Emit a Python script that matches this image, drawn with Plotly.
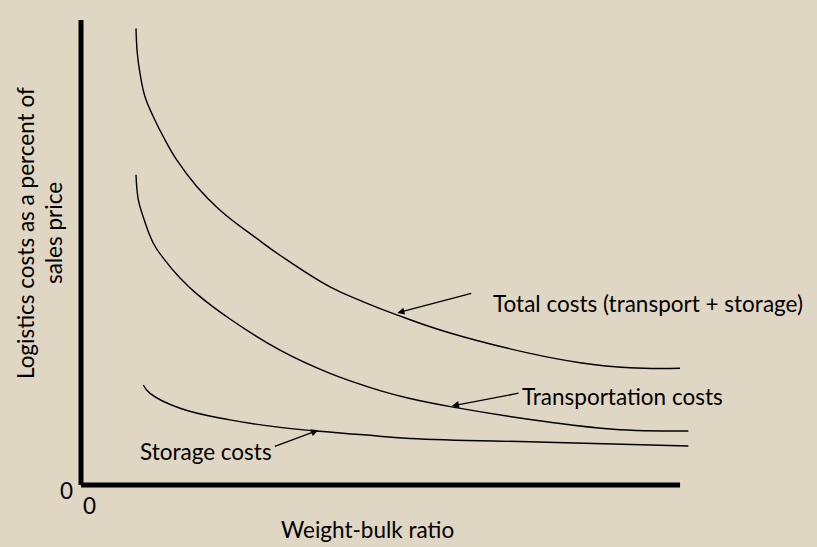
import plotly.graph_objects as go

# curves (x: weight-bulk ratio, y: cost %), arbitrary 0-100 units
total_x = [9.18, 9.40, 9.85, 10.68, 12.07, 13.74, 15.98, 19.32, 23.21, 29.88, 33.22, 41.57,
           47.13, 52.70, 61.05, 74.96, 83.31, 91.65, 100.0]
total_y = [98.2, 92.8, 88.5, 83.5, 79.2, 74.9, 69.9, 64.2, 59.1, 52.5, 49.4, 42.6,
           39.4, 36.6, 32.9, 28.3, 26.3, 25.2, 25.1]

transport_x = [9.18, 9.57, 10.40, 12.07, 13.74, 16.53, 19.32, 24.87, 33.22, 41.57, 49.92,
               54.92, 61.89, 77.75, 88.86, 101.39]
transport_y = [66.7, 61.3, 57.6, 52.0, 48.8, 44.5, 41.1, 35.7, 29.0, 24.0, 20.3,
               18.6, 16.8, 13.6, 12.0, 11.6]

storage_x = [10.40, 11.52, 16.53, 24.87, 33.22, 39.35, 47.13, 54.92, 77.75, 101.39]
storage_y = [21.5, 19.7, 16.5, 14.0, 12.4, 11.6, 10.8, 10.0, 9.2, 8.4]

# label text, label anchor, arrow tail, arrow tip
labels = ["Total costs (transport + storage)", "Transportation costs", "Storage costs"]
label_pos = [(68.4, 39.1), (73.3, 19.1), (9.5, 7.3)]
arrow_tail = [(65.4, 41.3), (73.3, 19.8), (32.1, 8.2)]
arrow_tip = [(52.8, 37.0), (61.9, 17.0), (39.6, 11.8)]

BG = "#E0D6C4"
FONT = "Lato"
FS = 22.5

fig = go.Figure()
for xs, ys in [(total_x, total_y), (transport_x, transport_y), (storage_x, storage_y)]:
    fig.add_trace(go.Scatter(x=xs, y=ys, mode="lines",
                             line=dict(color="black", width=1.4, shape="spline", smoothing=1.2),
                             hoverinfo="skip"))

# thick axes
fig.add_shape(type="line", x0=0, y0=0, x1=100, y1=0, line=dict(color="black", width=5))
fig.add_shape(type="line", x0=0, y0=0, x1=0, y1=100, line=dict(color="black", width=5))

for text, (lx, ly), (tx, ty), (hx, hy) in zip(labels, label_pos, arrow_tail, arrow_tip):
    fig.add_annotation(x=lx, y=ly, text=text, showarrow=False, xanchor="left", yanchor="middle",
                       font=dict(size=FS, color="black", family=FONT))
    fig.add_annotation(x=hx, y=hy, ax=tx, ay=ty, axref="x", ayref="y", text="", showarrow=True,
                       arrowhead=2, arrowsize=1.1, arrowwidth=1.3, arrowcolor="black")

# zeros at the origin
fig.add_annotation(x=0, y=0, text="0", showarrow=False, xshift=-15, yshift=-5,
                   font=dict(size=FS, color="black", family=FONT))
fig.add_annotation(x=0, y=0, text="0", showarrow=False, xshift=8, yshift=-20,
                   font=dict(size=FS, color="black", family=FONT))

# axis titles (y title is two rotated lines)
fig.add_annotation(xref="paper", yref="paper", x=-0.0555, y=0.54, textangle=-90,
                   xanchor="center", yanchor="middle",
                   text="Logistics costs as a percent of", showarrow=False,
                   font=dict(size=FS, color="black", family=FONT))
fig.add_annotation(xref="paper", yref="paper", x=-0.0123, y=0.54, textangle=-90,
                   xanchor="center", yanchor="middle",
                   text="sales price", showarrow=False,
                   font=dict(size=FS, color="black", family=FONT))
fig.add_annotation(xref="paper", yref="paper", x=0.4715, y=-0.072, text="Weight-bulk ratio",
                   xanchor="center", yanchor="middle",
                   showarrow=False, font=dict(size=FS, color="black", family=FONT))

fig.update_layout(
    width=817, height=547,
    margin=dict(l=61, r=107, t=10, b=52),
    paper_bgcolor=BG, plot_bgcolor=BG,
    showlegend=False,
    xaxis=dict(range=[-3.34, 105.0], visible=False),
    yaxis=dict(range=[-2.15, 102.15], visible=False),
)

fig.write_html("out.html", config={"displayModeBar": False},
               post_script="document.body.style.margin='0';document.body.style.background='%s';" % BG)
